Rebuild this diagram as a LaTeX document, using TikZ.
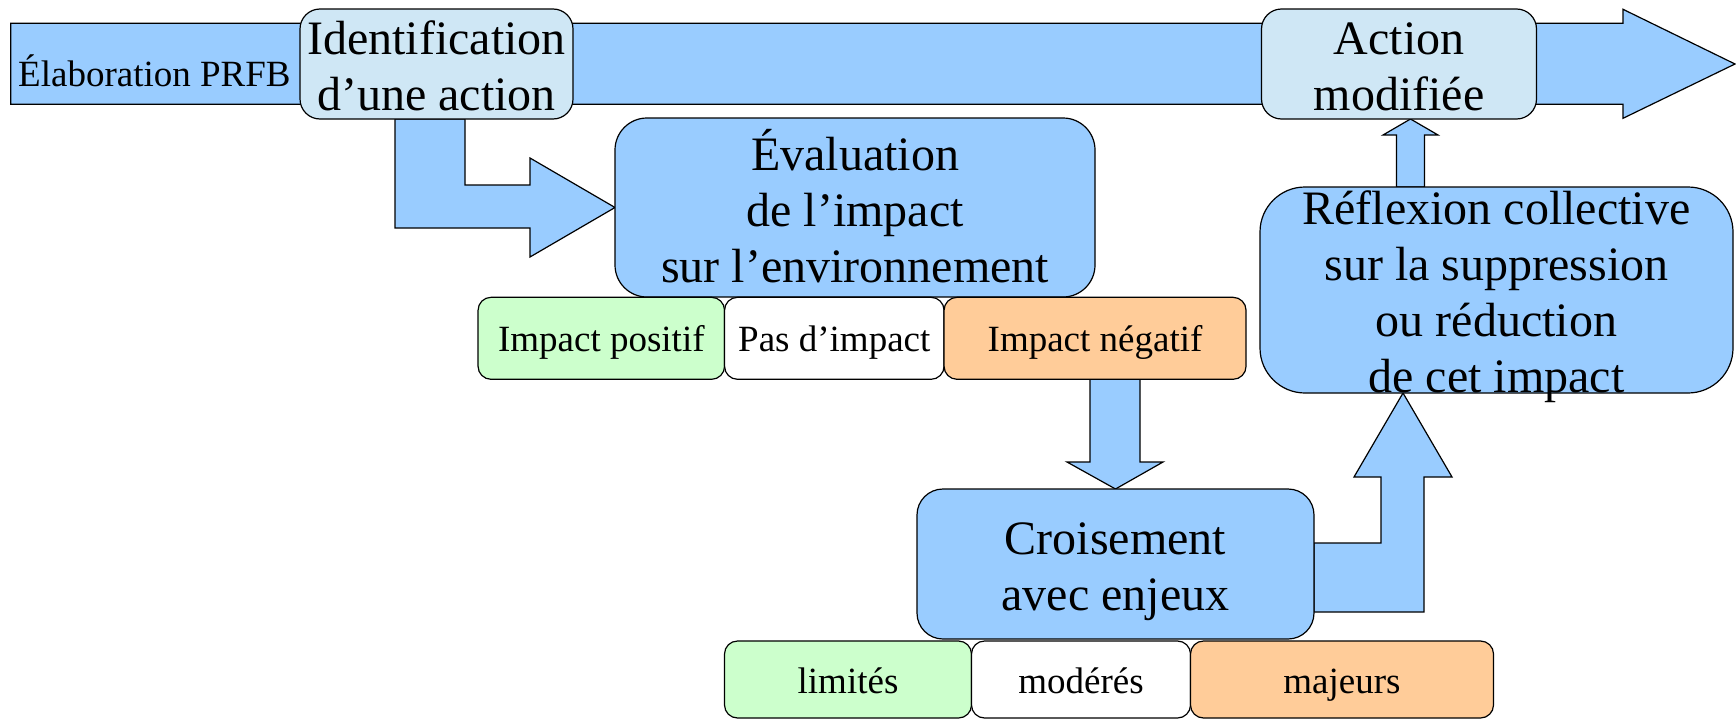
\documentclass[tikz,border=0pt]{standalone}
\usepackage{fontspec}
\setmainfont{Liberation Serif}
\usepackage{tikz}
\usetikzlibrary{positioning,backgrounds}
\definecolor{skyblue}{HTML}{99CCFF}
\definecolor{paleblue}{HTML}{CFE7F5}
\definecolor{mintgreen}{HTML}{CCFFCC}
\definecolor{peach}{HTML}{FFCC99}
\newcommand{\bigtxt}{\fontsize{48}{56}\selectfont}
\newcommand{\smtxt}{\fontsize{37}{44}\selectfont}
\newcommand{\tp}{\rule[-10.4pt]{0pt}{58.4pt}}
\newcommand{\bt}{\rule[-10.4pt]{0pt}{53.2pt}}
\newcommand{\stp}{\rule[-8pt]{0pt}{43pt}}
\tikzstyle{stage} = [rectangle, draw = black, line width = 1.2pt, fill = skyblue, align = center, inner xsep = 0pt, inner ysep = -2.2pt, outer sep = 0pt, font = \bigtxt]
\tikzstyle{tag} = [rectangle, draw = black, line width = 1.2pt, rounded corners = 13pt, inner sep = 0pt, outer sep = 0pt, font = \smtxt]
\tikzstyle{flow} = [draw = black, line width = 1.2pt, fill = skyblue]

\begin{document}
\begin{tikzpicture}[x = 1pt, y = -1pt]
        \useasboundingbox (0,0) rectangle (1736,720);
        \node (ident) [stage, fill = paleblue, rounded corners = 20pt, minimum width = 273pt, minimum height = 110pt] at (436.5,64) {\tp Identification\\d’une action\bt};
        \node (action) [stage, fill = paleblue, rounded corners = 20pt, minimum width = 275pt, minimum height = 110pt] at (1399,64) {\tp Action\\modifiée\bt};
        \node (elab) [anchor = base west, inner sep = 0pt, font = \smtxt] at (18,86) {Élaboration PRFB};
        \node (eval) [stage, rounded corners = 32pt, minimum width = 480pt, minimum height = 179pt] at (855,207.5) {\tp Évaluation\\de l’impact\\sur l’environnement\bt};
        \node (positif) [tag, fill = mintgreen, minimum width = 246.5pt, minimum height = 82pt] at (601.3,338.3) {\stp Impact positif};
        \node (pas) [tag, fill = white, minimum width = 219.5pt, minimum height = 82pt, right = 0pt of positif] {\stp Pas d’impact};
        \node (negatif) [tag, fill = peach, minimum width = 302pt, minimum height = 82pt, right = 0pt of pas] {\stp Impact négatif};
        \node (reflex) [stage, rounded corners = 45pt, minimum width = 473pt, minimum height = 206pt, inner ysep = -10.3pt] at (1496.5,290) {\tp Réflexion collective\\sur la suppression\\ou réduction\\de cet impact\bt};
        \node (croise) [stage, rounded corners = 26pt, minimum width = 397pt, minimum height = 150pt] at (1115.5,564) {\tp Croisement\\avec enjeux\bt};
        \node (limites) [tag, fill = mintgreen, minimum width = 247pt, minimum height = 77pt] at (848,679.5) {\stp limités};
        \node (moderes) [tag, fill = white, minimum width = 219pt, minimum height = 77pt, right = 0pt of limites] {\stp modérés};
        \node (majeurs) [tag, fill = peach, minimum width = 303pt, minimum height = 77pt, right = 0pt of moderes] {\stp majeurs};
        \begin{scope}[on background layer]
        \draw [flow] (10.7,23.3) -- (1623,23.3) -- (1623,9.3) -- (1735,64) -- (1623,118.3) -- (1623,104.3) -- (10.7,104.3) -- cycle;
        \draw [flow] (395,0 |- ident.south) -- (465,0 |- ident.south) -- (465,185) -- (530,185) -- (530,158) -- (eval.west) -- (530,257) -- (530,228) -- (395,228) -- cycle;
        \draw [flow] (1090,0 |- negatif.south) -- (1140,0 |- negatif.south) -- (1140,462) -- (1163,462) -- (croise.north) -- (1067,462) -- (1090,462) -- cycle;
        \draw [flow] (croise.east |- 0,543) -- (1381,543) -- (1381,477) -- (1354,477) -- (1403,0 |- reflex.south) -- (1452,477) -- (1424,477) -- (1424,612) -- (croise.east |- 0,612) -- cycle;
        \draw [flow] (1396.5,0 |- reflex.north) -- (1396.5,135) -- (1383,135) -- (1410.5,0 |- action.south) -- (1438,135) -- (1424.5,135) -- (1424.5,0 |- reflex.north) -- cycle;
        \end{scope}
\end{tikzpicture}
\end{document}
